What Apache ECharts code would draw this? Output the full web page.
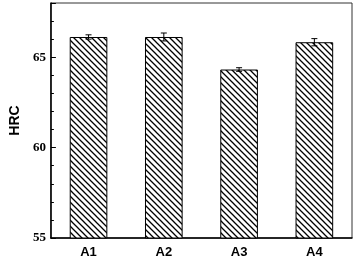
<!DOCTYPE html>
<html><head><meta charset="utf-8">
<script src="https://cdn.jsdelivr.net/npm/echarts@6/dist/echarts.min.js"></script>
<style>html,body{margin:0;padding:0;background:#fff}#c{width:354px;height:262px}</style>
</head><body><div id="c"></div>
<script>
var categories = ['A1', 'A2', 'A3', 'A4'];
var hrcValues = [66.12, 66.12, 64.32, 65.83];
var hrcErrors = [0.12, 0.22, 0.1, 0.2];
var yTicks = [55, 60, 65];

function makePattern() {
  var s = 6;
  var cv = document.createElement('canvas');
  cv.width = s; cv.height = s;
  var ctx = cv.getContext('2d');
  ctx.fillStyle = '#fff';
  ctx.fillRect(0, 0, s, s);
  ctx.strokeStyle = '#000';
  ctx.lineWidth = 1.3;
  ctx.beginPath();
  ctx.moveTo(-1, -1); ctx.lineTo(s + 1, s + 1);
  ctx.moveTo(-1, s - 1); ctx.lineTo(1, s + 1);
  ctx.moveTo(s - 1, -1); ctx.lineTo(s + 1, 1);
  ctx.stroke();
  return cv;
}

var chart = echarts.init(document.getElementById('c'), null, {renderer: 'canvas'});
var errData = categories.map(function (c, i) { return [i, hrcValues[i] - hrcErrors[i], hrcValues[i] + hrcErrors[i]]; });
var serif = '"Liberation Serif", "Times New Roman", serif';
var sans = '"Liberation Sans", Arial, sans-serif';

chart.setOption({
  animation: false,
  grid: {left: 41, right: 2, top: 3, bottom: 24, show: true, borderColor: '#333', borderWidth: 1, containLabel: false},
  xAxis: {
    type: 'category', data: categories,
    axisLine: {lineStyle: {color: '#000', width: 1.5}},
    axisTick: {show: false},
    axisLabel: {color: '#000', fontFamily: sans, fontWeight: 'bold', fontSize: 13, margin: 8}
  },
  yAxis: {
    type: 'value', min: 55, max: 68, interval: 5,
    name: 'HRC', nameLocation: 'middle', nameGap: 24,
    nameTextStyle: {color: '#000', fontFamily: sans, fontWeight: 'bold', fontSize: 14},
    axisLine: {show: true, lineStyle: {color: '#000', width: 1.5}},
    axisTick: {show: true, inside: true, length: 5, lineStyle: {color: '#000'}},
    minorTick: {show: true, splitNumber: 5, length: 3, lineStyle: {color: '#000'}},
    splitLine: {show: false},
    axisLabel: {color: '#000', fontFamily: serif, fontWeight: 'bold', fontSize: 13, margin: 5,
      formatter: function (v) { return yTicks.indexOf(v) >= 0 ? String(v) : ''; }}
  },
  series: [{
    type: 'bar', data: hrcValues, barWidth: '50%',
    itemStyle: {color: {image: makePattern(), repeat: 'repeat'}, borderColor: '#000', borderWidth: 1}
  }, {
    type: 'custom', data: errData,
    renderItem: function (params, api) {
      var x = api.value(0);
      var lo = api.coord([x, api.value(1)]);
      var hi = api.coord([x, api.value(2)]);
      var w = 3;
      var st = {stroke: '#000', lineWidth: 1};
      return {type: 'group', children: [
        {type: 'line', shape: {x1: lo[0], y1: lo[1], x2: hi[0], y2: hi[1]}, style: st},
        {type: 'line', shape: {x1: lo[0] - w, y1: lo[1], x2: lo[0] + w, y2: lo[1]}, style: st},
        {type: 'line', shape: {x1: hi[0] - w, y1: hi[1], x2: hi[0] + w, y2: hi[1]}, style: st}
      ]};
    },
    z: 10
  }]
});
</script></body></html>
